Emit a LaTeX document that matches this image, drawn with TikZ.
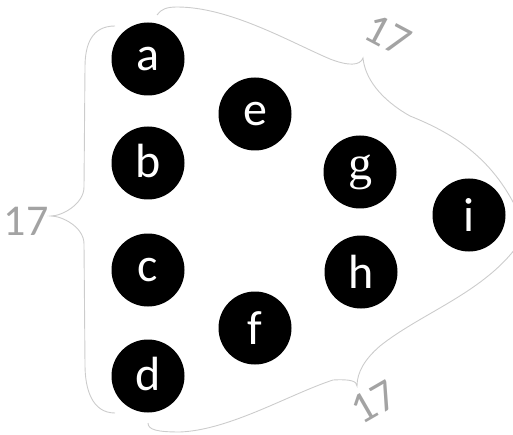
\documentclass[tikz,border=0pt]{standalone}
\usepackage{fontspec}
\setmainfont{Carlito}
\newfontfamily\gfont{Liberation Serif}
\definecolor{bracegray}{HTML}{CCCCCC}
\definecolor{numgray}{HTML}{A3A3A3}
\begin{document}
\begin{tikzpicture}[x=1pt,y=1pt,
  ball/.style={circle,fill=black,minimum size=73pt,inner sep=0pt,text=white,
    font=\fontsize{48}{50}\selectfont},
  bracecurve/.style={draw=bracegray,line width=0.9pt},
  num/.style={text=numgray,font=\fontsize{44}{46}\selectfont,inner sep=0pt}]
\useasboundingbox (0,0) rectangle (513,434);
\clip (0,0) rectangle (513,434);

% circles
\node[ball] (a) at (148,375) {a};
\node[ball] (b) at (148,271) {\raisebox{3.5pt}{b}};
\node[ball] (c) at (148,164) {c};
\node[ball] (d) at (148,58) {\raisebox{5pt}{d}};
\node[ball] (e) at (255,320) {e};
\node[ball] (f) at (255,106) {\raisebox{-2pt}{f}};
\node[ball] (g) at (360,262) {\gfont g};
\node[ball] (h) at (361,162) {h};
\node[ball] (i) at (469,219) {\raisebox{-4pt}{i}};

% left brace
\draw[bracecurve] (115,408) .. controls (92,408) and (85,390) .. (85,367)
  -- (84,247) .. controls (84,230) and (62,218) .. (51,218)
  .. controls (62,218) and (84,207) .. (84,190)
  -- (85,69) .. controls (85,45) and (92,21) .. (115,21);

% top brace
\draw[bracecurve] (157,419) .. controls (161,425) and (167,427) .. (177,427)
  .. controls (230,427) and (290,392) .. (330,375)
  .. controls (348,368) and (360,368) .. (363,376)
  .. controls (365,356) and (380,335) .. (410,318)
  .. controls (450,302) and (492,278) .. (518,222);

% bottom brace
\draw[bracecurve] (148,11) .. controls (148,4) and (158,2) .. (180,2)
  .. controls (230,4) and (290,40) .. (333,54)
  .. controls (350,55) and (357,53) .. (357,48)
  .. controls (357,62) and (365,75) .. (380,88)
  .. controls (420,120) and (480,140) .. (515,185);

% labels
\node[num] (lleft) at (26,213) {17};
\node[num,rotate=-28] (ltop) at (388,399) {17};
\node[num,rotate=30] (lbottom) at (374,32) {17};
\end{tikzpicture}
\end{document}
